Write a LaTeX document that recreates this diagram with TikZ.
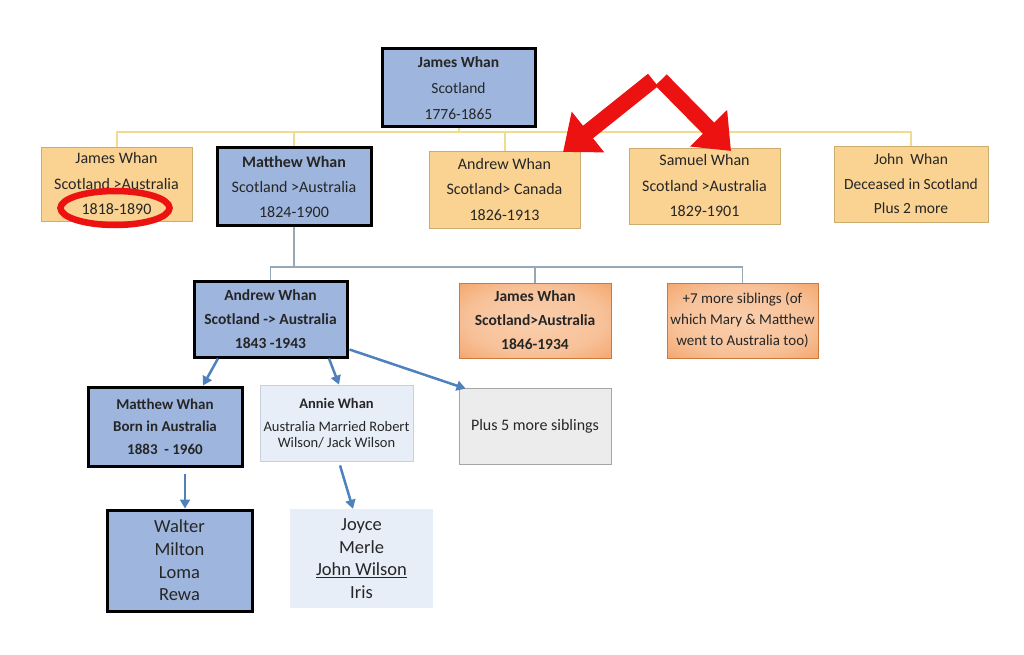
\documentclass[tikz,border=0pt]{standalone}
\usepackage{fontspec}
\setmainfont{Carlito}
\usetikzlibrary{arrows.meta,shapes.geometric,calc}
\definecolor{blueF}{RGB}{158,181,222}
\definecolor{orF}{RGB}{250,210,146}
\definecolor{orD}{RGB}{205,172,112}
\definecolor{deepD}{RGB}{205,120,60}
\definecolor{lightF}{RGB}{231,238,248}
\definecolor{lightD}{RGB}{200,208,222}
\definecolor{grayF}{RGB}{236,236,236}
\definecolor{grayD}{RGB}{165,165,165}
\definecolor{yelC}{RGB}{243,218,145}
\definecolor{gC}{RGB}{150,168,182}
\definecolor{arrC}{RGB}{79,129,189}
\definecolor{redC}{RGB}{236,18,18}
\definecolor{txt}{RGB}{38,38,38}
\pgfdeclareradialshading{glow}{\pgfpoint{0bp}{0bp}}{%
  rgb(0bp)=(0.98,0.81,0.68);
  rgb(22bp)=(0.97,0.76,0.60);
  rgb(40bp)=(0.95,0.62,0.38);
  rgb(50bp)=(0.91,0.50,0.22);
  rgb(72bp)=(0.89,0.46,0.18)}
\tikzset{
  base/.style={rectangle, inner sep=0pt, align=center, text=txt},
  bluebox/.style={base, fill=blueF, draw=black, line width=3pt},
  orbox/.style={base, fill=orF, draw=orD, line width=0.8pt, font=\fontsize{16}{25.5}\selectfont},
  deepor/.style={base, shading=glow, draw=deepD, line width=0.8pt},
  lightbox/.style={base, fill=lightF},
  graybox/.style={base, fill=grayF, draw=grayD, line width=0.8pt},
  yel/.style={draw=yelC, line width=2pt},
  gcon/.style={draw=gC, line width=1.5pt},
  barrow/.style={draw=arrC, line width=2.5pt, -{Triangle[length=9pt,width=10pt]}},
  rarrow/.style={draw=redC, line width=16pt, -{Triangle[length=32pt,width=50pt]}},
  redmark/.style={ellipse, draw=redC, line width=6.5pt, inner sep=0pt}
}
\begin{document}
\begin{tikzpicture}[x=1pt,y=-1pt]
\useasboundingbox (0,0) rectangle (1024,655);
\fill[white] (0,0) rectangle (1024,655);

% generation 1
\node[bluebox, minimum width=153, minimum height=78, font=\fontsize{15.5}{26}\selectfont] (top) at (458.5,88) {\textbf{James Whan}\\Scotland\\1776-1865};

% generation 2
\node[orbox, minimum width=151, minimum height=74] (jw1) at (116.5,184) {James Whan\\Scotland >Australia\\1818-1890};
\node[bluebox, minimum width=154, minimum height=77, font=\fontsize{16}{25}\selectfont] (mw1) at (294,186.5) {\textbf{Matthew Whan}\\Scotland >Australia\\1824-1900};
\node[orbox, minimum width=151, minimum height=77] (aw1) at (504.5,189.5) {Andrew Whan\\Scotland> Canada\\1826-1913};
\node[orbox, minimum width=151, minimum height=76] (sw) at (704.5,186) {Samuel Whan\\Scotland >Australia\\1829-1901};
\node[orbox, minimum width=154, minimum height=76, font=\fontsize{15.5}{24.5}\selectfont] (jn) at (911,184) {John~ Whan\\Deceased in Scotland\\Plus 2 more};

\coordinate (bus1) at (458.5,132);
\draw[yel] (top.south) -- (bus1);
\draw[yel] (bus1) -| (jw1.north);
\draw[yel] (bus1) -| (mw1.north);
\draw[yel] (bus1) -| (aw1.north);
\draw[yel] (bus1) -| (sw.north);
\draw[yel] (bus1) -| (jn.north);

% generation 3
\node[bluebox, minimum width=153, minimum height=76, font=\fontsize{15.5}{24}\selectfont] (aw3) at (270.5,319) {\textbf{Andrew Whan}\\\textbf{Scotland -> Australia}\\\textbf{1843 -1943}};
\node[deepor, minimum width=152, minimum height=75, font=\fontsize{15.5}{24}\selectfont] (jw3) at (535,320.5) {\textbf{James Whan}\\\textbf{Scotland>Australia}\\\textbf{1846-1934}};
\node[deepor, minimum width=151, minimum height=75, font=\fontsize{15}{21}\selectfont] (more7) at (742.5,320.5) {+7 more siblings (of\\which Mary \& Matthew\\went to Australia too)};

\coordinate (bus2) at (294,267);
\draw[gcon] (mw1.south) -- (bus2);
\draw[gcon] (bus2) -| (aw3.north);
\draw[gcon] (bus2) -| (jw3.north);
\draw[gcon] (bus2) -| (more7.north);

% generation 4
\node[bluebox, minimum width=154, minimum height=79, font=\fontsize{15}{22.5}\selectfont] (mw2) at (165,426.5) {\textbf{Matthew Whan}\\\textbf{Born in Australia}\\\textbf{1883 ~- 1960}};
\node[lightbox, draw=lightD, line width=0.8pt, minimum width=153, minimum height=76, font=\fontsize{14.5}{16}\selectfont] (an) at (336.5,423) {\textbf{Annie Whan}\\[7pt]Australia Married Robert\\Wilson/ Jack Wilson};
\node[graybox, minimum width=152, minimum height=76, font=\fontsize{16}{20}\selectfont] (p5) at (535,426) {Plus 5 more siblings};

\draw[barrow] ($(aw3.south)+(-52.5,0)$) -- ($(mw2.north)+(38,0)$);
\draw[barrow] ($(aw3.south)+(58.5,0)$) -- ($(an.north)+(2.5,0)$);
\draw[barrow] ($(aw3.south east)+(1,-9)$) -- ($(p5.north west)+(7,1)$);

% generation 5
\node[bluebox, minimum width=145, minimum height=101, font=\fontsize{18.5}{22.7}\selectfont] (wa) at (179.5,560.5) {Walter\\Milton\\Loma\\Rewa};
\node[lightbox, minimum width=143, minimum height=99, font=\fontsize{18.5}{22.7}\selectfont] (jo) at (361.5,558.5) {Joyce\\Merle\\\underline{John Wilson}\\Iris};

\draw[barrow] ($(mw2.south)+(20,6)$) -- ($(wa.north)+(5.5,0)$);
\draw[barrow] ($(an.south)+(3.5,4)$) -- ($(jo.north)+(-8.5,0)$);

% red highlights
\node[redmark, minimum width=109, minimum height=34] (mark) at (115,208) {};
\coordinate (apexL) at (653,80);
\coordinate (apexR) at (661,80);
\coordinate (tipL) at (563,152);
\coordinate (tipR) at (731,151);
\draw[rarrow] (apexL) -- (tipL);
\draw[rarrow] (apexR) -- (tipR);
\end{tikzpicture}
\end{document}
